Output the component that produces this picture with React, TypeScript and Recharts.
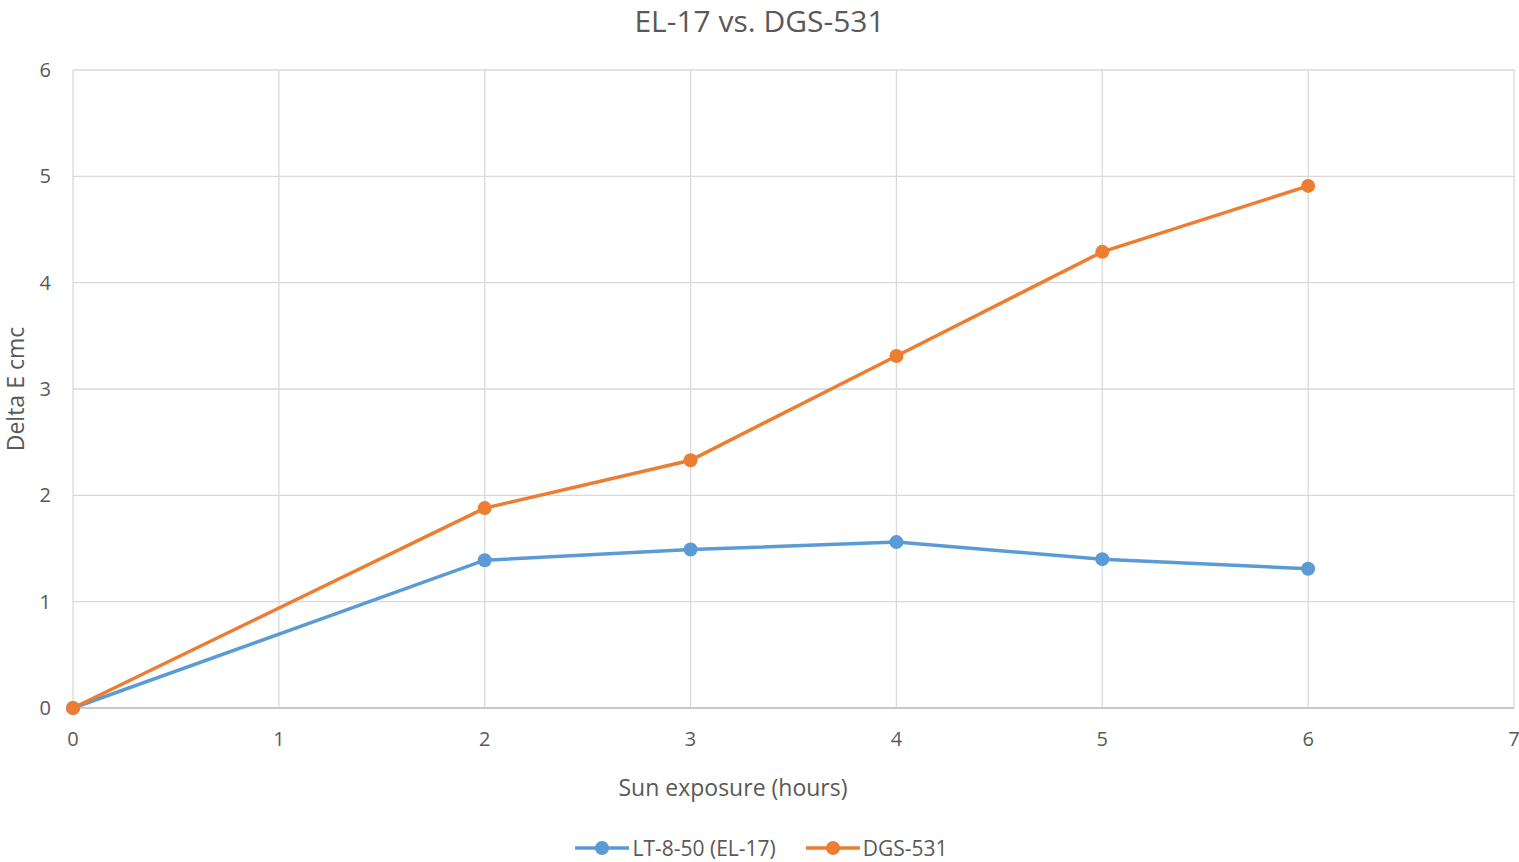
import React from "react";
import { LineChart, Line, XAxis, YAxis, CartesianGrid, Legend } from "recharts";

const hours = [0, 2, 3, 4, 5, 6];
const el17 = [0, 1.39, 1.49, 1.56, 1.4, 1.31];
const dgs531 = [0, 1.88, 2.33, 3.31, 4.29, 4.91];
const xTicks = [0, 1, 2, 3, 4, 5, 6, 7];
const yTicks = [0, 1, 2, 3, 4, 5, 6];
const seriesNames = ["LT-8-50 (EL-17)", "DGS-531"];
const seriesColors = ["#5b9bd5", "#ed7d31"];

const data = hours.map((h, i) => ({ h, a: el17[i], b: dgs531[i] }));

const FONT = "'Open Sans', 'Noto Sans', sans-serif";
const TXT = "#595959";

const LegendContent = () => (
  <div style={{ display: "flex", justifyContent: "center", alignItems: "center", fontFamily: FONT, fontSize: 21, color: TXT, paddingLeft: 4 }}>
    {seriesNames.map((n, i) => (
      <div key={n} style={{ display: "flex", alignItems: "center", marginLeft: i ? 30 : 0 }}>
        <svg width={54} height={18} style={{ marginRight: 3 }}>
          <line x1={0} y1={9} x2={54} y2={9} stroke={seriesColors[i]} strokeWidth={3.5} />
          <circle cx={27} cy={9} r={7} fill={seriesColors[i]} />
        </svg>
        <span>{n}</span>
      </div>
    ))}
  </div>
);

export default function App() {
  return (
    <div style={{ position: "absolute", left: 0, top: 0, width: 1519, height: 862, background: "#fff", fontFamily: FONT }}>
      <div style={{ position: "absolute", left: 0, width: 1519, top: 0, textAlign: "center", fontSize: 30, color: TXT }}>
        EL-17 vs. DGS-531
      </div>
      <div style={{ position: "absolute", left: 533, width: 400, top: 771, textAlign: "center", fontSize: 23, color: TXT, whiteSpace: "nowrap" }}>
        Sun exposure (hours)
      </div>
      <div style={{ position: "absolute", left: 15 - 100, top: 389 - 16, width: 200, textAlign: "center", fontSize: 23, color: TXT, transform: "rotate(-90deg)", whiteSpace: "nowrap" }}>
        Delta E cmc
      </div>
      <LineChart width={1519} height={862} data={data} margin={{ top: 70, right: 5, left: 0, bottom: 96 }}>
        <CartesianGrid stroke="#d9d9d9" strokeWidth={1.3} />
        <XAxis
          dataKey="h"
          type="number"
          domain={[0, 7]}
          ticks={xTicks}
          interval={0}
          tickLine={false}
          axisLine={{ stroke: "#bfbfbf", strokeWidth: 1.3 }}
          tick={{ fill: TXT, fontSize: 20, fontFamily: FONT }}
          tickMargin={18}
          height={30}
        />
        <YAxis
          type="number"
          domain={[0, 6]}
          ticks={yTicks}
          interval={0}
          tickLine={false}
          axisLine={false}
          tick={{ fill: TXT, fontSize: 20, fontFamily: FONT }}
          tickMargin={16}
          width={73}
        />
        <Line dataKey="a" name={seriesNames[0]} stroke={seriesColors[0]} strokeWidth={3.5} dot={{ r: 7, fill: seriesColors[0], stroke: seriesColors[0], strokeWidth: 0 }} activeDot={false} isAnimationActive={false} />
        <Line dataKey="b" name={seriesNames[1]} stroke={seriesColors[1]} strokeWidth={3.5} dot={{ r: 7, fill: seriesColors[1], stroke: seriesColors[1], strokeWidth: 0 }} activeDot={false} isAnimationActive={false} />
        <Legend content={<LegendContent />} wrapperStyle={{ position: "absolute", top: 834, left: 0, width: 1519, bottom: "auto" }} />
      </LineChart>
    </div>
  );
}
